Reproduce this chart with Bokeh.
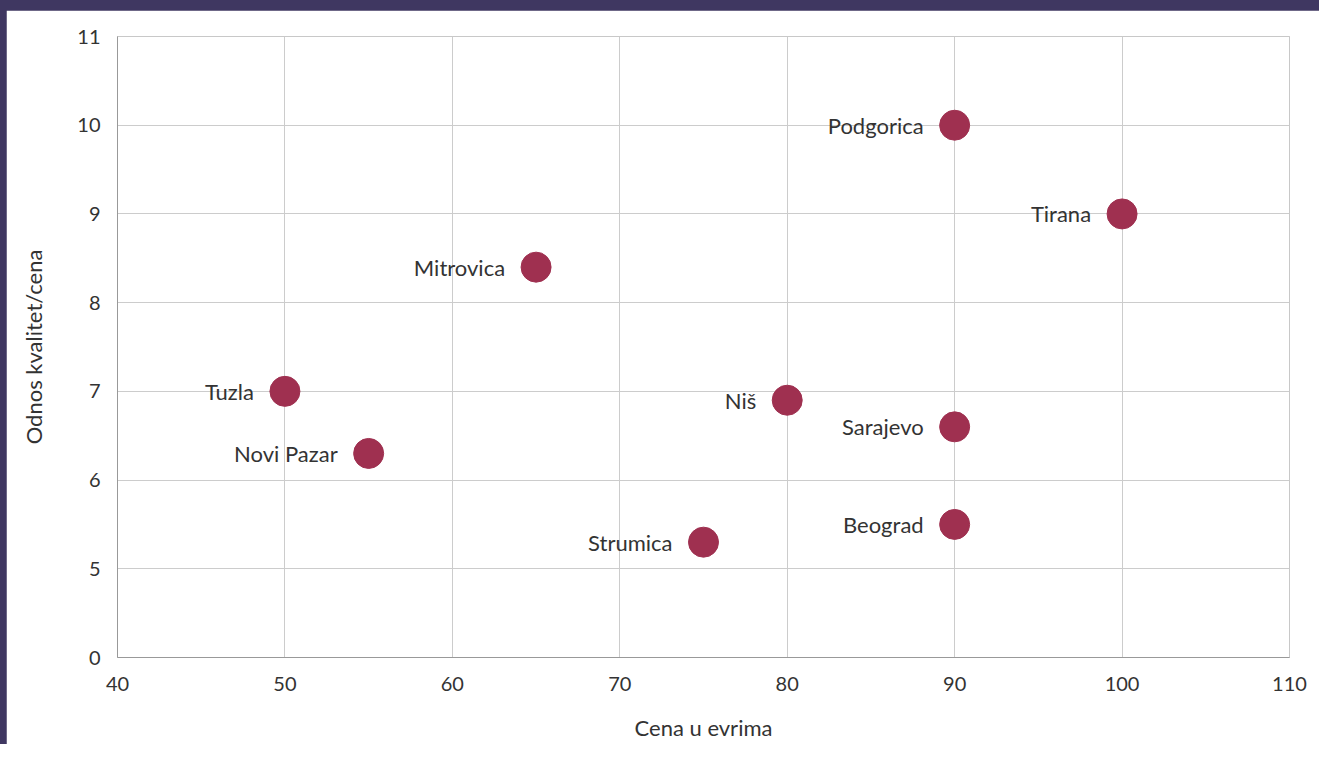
from bokeh.plotting import figure
from bokeh.models import ColumnDataSource, FixedTicker, Range1d
from bokeh.layouts import column
from bokeh.embed import file_html
from bokeh.resources import INLINE
from bokeh.core.properties import value

cities = ["Podgorica", "Tirana", "Mitrovica", "Tuzla", "Niš", "Novi Pazar", "Sarajevo", "Beograd", "Strumica"]
price = [90, 100, 65, 50, 80, 55, 90, 90, 75]
ratio = [10.0, 9.0, 8.4, 7.0, 6.9, 6.3, 6.6, 5.5, 5.3]

x_ticks = [40, 50, 60, 70, 80, 90, 100, 110]
y_ticks = [4, 5, 6, 7, 8, 9, 10, 11]
y_tick_labels = {4: "0"}

FONT = "Lato"
TXT = "#333333"

src = ColumnDataSource(dict(x=price, y=ratio, name=cities))

p = figure(width=1313, height=734, output_backend="svg", toolbar_location=None,
           x_range=Range1d(40, 110), y_range=Range1d(4, 11),
           min_border_left=111, min_border_right=30, min_border_top=26, min_border_bottom=87,
           background_fill_color="white", border_fill_color="white",
           margin=(10, 0, 0, 6))
p.outline_line_color = "#c8c8c8"
p.outline_line_width = 1

p.xaxis.ticker = FixedTicker(ticks=x_ticks)
p.yaxis.ticker = FixedTicker(ticks=y_ticks)
p.yaxis.major_label_overrides = y_tick_labels
for ax in (p.xaxis[0], p.yaxis[0]):
    ax.major_tick_line_color = None
    ax.minor_tick_line_color = None
    ax.axis_line_color = "#999999"
    ax.major_label_text_font = FONT
    ax.major_label_text_font_size = "20px"
    ax.major_label_text_color = TXT
    ax.axis_label_text_font = FONT
    ax.axis_label_text_font_size = "22px"
    ax.axis_label_text_font_style = "normal"
    ax.axis_label_text_color = TXT
p.xaxis.major_label_standoff = 13
p.yaxis.major_label_standoff = 11
p.xaxis.axis_label = "Cena u evrima"
p.yaxis.axis_label = "Odnos kvalitet/cena"
p.xaxis.axis_label_standoff = 20
p.yaxis.axis_label_standoff = 27

p.grid.grid_line_color = "#cccccc"
p.grid.grid_line_width = 1

p.scatter("x", "y", source=src, size=30, fill_color="#9f3050", line_color="#9f3050")
p.text("x", "y", text="name", source=src, x_offset=-31, text_align="right",
       text_baseline="middle", text_font=value(FONT), text_font_size="22px",
       text_color=TXT)

layout = column(p, styles={"background-color": "#3f3761"})

open("out.html", "w").write(file_html(layout, INLINE))
